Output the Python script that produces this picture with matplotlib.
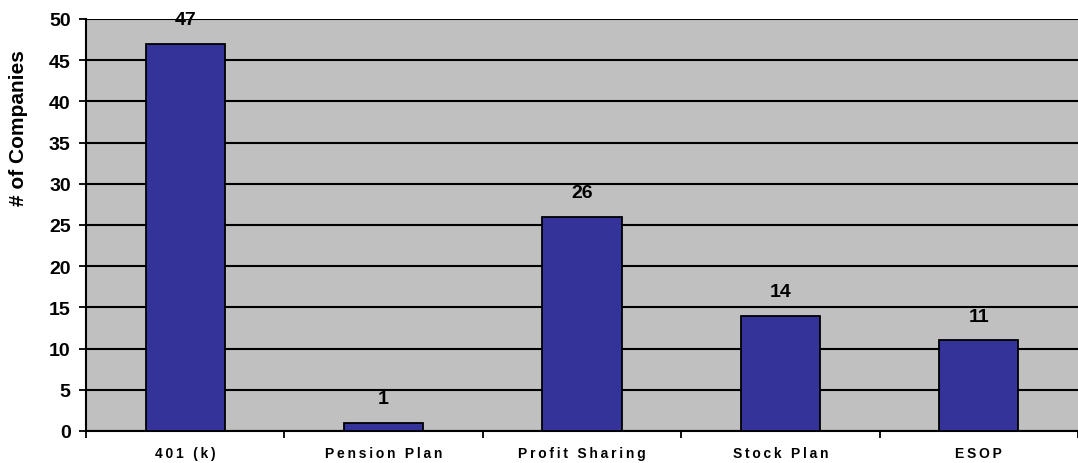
import matplotlib.pyplot as plt
import numpy as np

plt.rcParams['font.family'] = ['Liberation Sans', 'DejaVu Sans']

categories = ["401 (k)", "Pension Plan", "Profit Sharing", "Stock Plan", "ESOP"]
companies = [47, 1, 26, 14, 11]


def spaced(label):
    # the original labels have wide letter spacing
    return "\u2009".join(label)


fig = plt.figure(figsize=(10.78, 4.64), dpi=100)
ax = fig.add_axes([86 / 1078, 32 / 464, 1 - 86 / 1078, 412 / 464])
ax.set_facecolor("#c0c0c0")

x = np.arange(len(categories))
ax.bar(x, companies, width=0.4, color="#333399", edgecolor="black", linewidth=1.3, zorder=3)
for xi, v in zip(x, companies):
    ax.text(xi, v + 1.9, str(v), ha="center", va="bottom", fontsize=14, fontweight="bold",
            clip_on=False)

ax.set_xlim(-0.5, len(categories) - 0.5)
ax.set_ylim(0, 50)
ax.set_yticks(range(0, 51, 5))
ax.yaxis.grid(True, color="black", linewidth=1.5, zorder=0)
ax.set_axisbelow(True)

ax.set_xticks(x)
ax.set_xticklabels([spaced(c) for c in categories], fontsize=10, fontweight="bold")
ax.set_xticks(np.arange(-0.5, len(categories), 1), minor=True)
ax.tick_params(axis="x", which="major", length=0, pad=11)
ax.tick_params(axis="x", which="minor", length=5, width=1.3, direction="out")
ax.tick_params(axis="y", length=5, width=1.3, labelsize=14, pad=6)
for lbl in ax.get_yticklabels():
    lbl.set_fontweight("bold")

ax.set_ylabel("# of Companies", fontsize=15, fontweight="bold")
ax.yaxis.set_label_coords(-0.0585, 0.738)

for s in ["top", "right"]:
    ax.spines[s].set_visible(False)
for s in ["left", "bottom"]:
    ax.spines[s].set_linewidth(1.5)

fig.savefig("out.png", dpi=100)
